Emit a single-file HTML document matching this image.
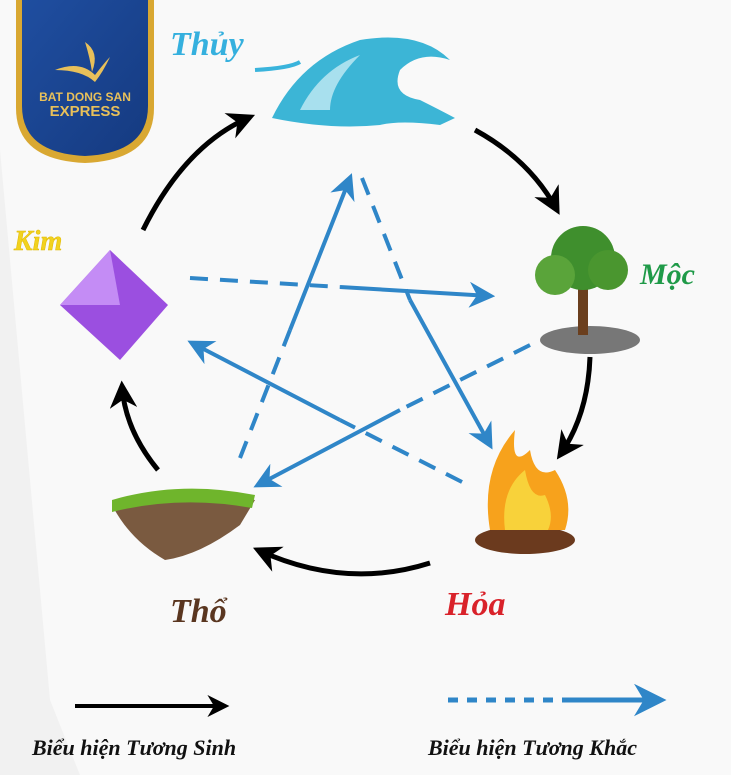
<!DOCTYPE html>
<html><head><meta charset="utf-8"><style>
html,body{margin:0;padding:0;background:#fafafa}
svg{display:block}
text{font-family:"Liberation Serif",serif;font-style:italic;font-weight:bold}
</style></head><body>
<svg width="731" height="775" viewBox="0 0 731 775" xmlns="http://www.w3.org/2000/svg">
<defs>
<marker id="ab" viewBox="0 0 10 10" refX="8" refY="5" markerWidth="5.5" markerHeight="5.5" orient="auto"><path d="M0,0 L10,5 L0,10 L3,5z" fill="#000"/></marker>
<marker id="au" viewBox="0 0 10 10" refX="8" refY="5" markerWidth="6.5" markerHeight="6.5" orient="auto"><path d="M0,0 L10,5 L0,10 L3,5z" fill="#2f86c8"/></marker>
<linearGradient id="sh" x1="0" y1="0" x2="1" y2="1"><stop offset="0" stop-color="#1f4ea0"/><stop offset="1" stop-color="#153a80"/></linearGradient>
</defs>
<rect width="731" height="775" fill="#f9f9f9"/>
<polygon points="0,150 50,700 80,775 0,775" fill="#f1f1f1"/>
<!-- logo -->
<path d="M16,0 L154,0 L154,108 Q154,160 85,163 Q16,160 16,108 Z" fill="#d9a832"/>
<path d="M22,0 L148,0 L148,106 Q148,153 85,156 Q22,153 22,106 Z" fill="url(#sh)"/>
<path d="M55,70 Q80,60 95,75 Q105,62 110,57 Q103,72 95,82 Q82,70 55,70Z M85,42 Q100,52 92,72 Q90,58 85,42Z" fill="#e8c05a"/>
<text x="85" y="101" font-size="12" fill="#e8c05a" text-anchor="middle" style="font-family:'Liberation Sans',sans-serif;font-style:normal">BAT DONG SAN</text>
<text x="85" y="116" font-size="15" fill="#e8c05a" text-anchor="middle" style="font-family:'Liberation Sans',sans-serif;font-style:normal">EXPRESS</text>
<!-- black arcs -->
<g fill="none" stroke="#000" stroke-width="5" marker-end="url(#ab)">
<path d="M143,230 Q185,145 250,117"/>
<path d="M475,130 Q530,160 557,210"/>
<path d="M590,357 Q588,415 560,455"/>
<path d="M430,563 Q345,590 258,550"/>
<path d="M158,470 Q125,430 122,386"/>
</g>
<!-- blue star -->
<g stroke="#2f86c8" stroke-width="4" fill="none">
<path d="M190,278 L340,287" stroke-dasharray="18,12"/>
<path d="M340,287 L490,296" marker-end="url(#au)"/>
<path d="M530,345 L400,410" stroke-dasharray="18,12"/>
<path d="M400,410 L258,485" marker-end="url(#au)"/>
<path d="M240,458 L290,330" stroke-dasharray="18,12"/>
<path d="M290,330 L350,178" marker-end="url(#au)"/>
<path d="M362,178 L410,300" stroke-dasharray="18,12"/>
<path d="M410,300 L490,445" marker-end="url(#au)"/>
<path d="M462,482 L340,420" stroke-dasharray="18,12"/>
<path d="M340,420 L192,343" marker-end="url(#au)"/>
</g>
<!-- wave -->
<path d="M272,118 Q300,60 360,40 Q420,30 450,60 Q420,50 400,70 Q390,95 420,100 Q440,110 455,118 L440,125 Q400,120 380,125 Q330,130 272,118Z" fill="#3cb5d6"/>
<path d="M300,110 Q320,70 360,55 Q330,85 330,110Z" fill="#a8e0ee"/>
<path d="M255,70 Q290,68 300,62" stroke="#3ab4dc" stroke-width="4" fill="none"/>
<text x="170" y="55" font-size="34" fill="#35b0de">Thủy</text>
<!-- tree -->
<ellipse cx="590" cy="340" rx="50" ry="14" fill="#777"/>
<rect x="578" y="285" width="10" height="50" fill="#6b3f1e"/>
<circle cx="583" cy="258" r="32" fill="#3f8f2d"/><circle cx="555" cy="275" r="20" fill="#5aa43a"/><circle cx="608" cy="270" r="20" fill="#4a962f"/>
<text x="640" y="284" font-size="30" fill="#1f9a48">Mộc</text>
<!-- fire -->
<ellipse cx="525" cy="540" rx="50" ry="14" fill="#6b3a1e"/>
<path d="M490,530 Q480,470 515,430 Q510,470 530,450 Q535,480 555,470 Q575,500 565,530Z" fill="#f7a21c"/>
<path d="M505,530 Q500,490 525,470 Q530,500 545,495 Q555,515 548,530Z" fill="#f8d23a"/>
<text x="445" y="615" font-size="34" fill="#d9222a">Hỏa</text>
<!-- earth -->
<path d="M112,505 Q180,485 255,500 L240,525 Q200,555 165,560 Q130,540 112,505Z" fill="#7a5a40"/>
<path d="M112,500 Q180,480 255,495 L252,508 Q180,495 112,512Z" fill="#6fb52c"/>
<text x="170" y="622" font-size="34" fill="#5a3620">Thổ</text>
<!-- crystal -->
<polygon points="110,250 168,305 120,360 60,305" fill="#9b4fe0"/>
<polygon points="110,250 120,305 60,305" fill="#c48cf5"/>
<text x="14" y="250" font-size="28" fill="#f2d21e" stroke="#e0b800" stroke-width="0.5">Kim</text>
<!-- legend -->
<line x1="75" y1="706" x2="225" y2="706" stroke="#000" stroke-width="4" marker-end="url(#ab)"/>
<text x="32" y="755" font-size="22" fill="#111">Biểu hiện Tương Sinh</text>
<line x1="448" y1="700" x2="570" y2="700" stroke="#2f86c8" stroke-width="5" stroke-dasharray="10,9"/>
<line x1="570" y1="700" x2="660" y2="700" stroke="#2f86c8" stroke-width="5" marker-end="url(#au)"/>
<text x="428" y="755" font-size="22" fill="#111">Biểu hiện Tương Khắc</text>
</svg>
</body></html>
